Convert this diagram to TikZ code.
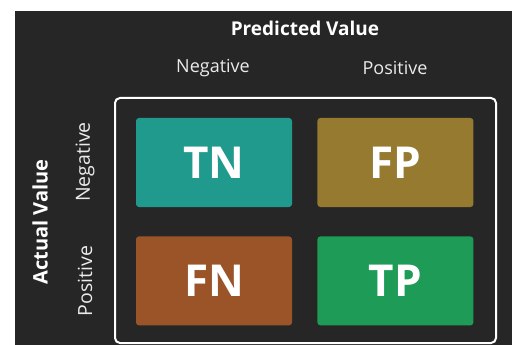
\documentclass[tikz,border=0pt]{standalone}
\usepackage{fontspec}
\setmainfont{Open Sans}
\usetikzlibrary{positioning}

\definecolor{panelGray}{HTML}{262626}
\definecolor{tnTeal}{HTML}{219A8E}
\definecolor{fpOlive}{HTML}{967A30}
\definecolor{fnBrown}{HTML}{9A5428}
\definecolor{tpGreen}{HTML}{1D9B57}

\begin{document}
\begin{tikzpicture}[x=1pt, y=-1pt]

% --- Styles ---
\tikzset{
    cellBox/.style={minimum width=156pt, minimum height=89pt, rounded corners=3pt, inner sep=0pt, text=white, font=\fontsize{44}{44}\selectfont\bfseries},
    frameBox/.style={draw=white, line width=2pt, rounded corners=5pt, minimum width=381pt, minimum height=245pt, inner sep=0pt},
    axisTitle/.style={text=white, font=\fontsize{19}{22}\selectfont\bfseries},
    axisLabel/.style={text=white!92!black, font=\fontsize{18}{21}\selectfont},
    sideLabel/.style={axisLabel, rotate=90, font=\fontsize{19.5}{22}\selectfont},
}

% --- Canvas ---
\useasboundingbox (0,0) rectangle (512,345);
\fill[panelGray] (15,11) rectangle (512,345);

% --- Outer frame ---
\node[frameBox] (frame) at (305.5,220.5) {};

% --- The four cells ---
\node[cellBox, fill=tnTeal] (tn) at (214,162.5) {TN};
\node[cellBox, fill=fpOlive, right=25pt of tn] (fp) {FP};
\node[cellBox, fill=fnBrown, below=29pt of tn] (fn) {FN};
\node[cellBox, fill=tpGreen, right=25pt of fn] (tp) {TP};

% --- Axis titles ---
\node[axisTitle] (predTitle) at (305,28) {Predicted Value};
\node[axisTitle, rotate=90, font=\fontsize{20}{22}\selectfont\bfseries] (actTitle) at (40,222) {Actual Value};

% --- Class labels ---
\node[axisLabel] (predNeg) at (213,68) {Negative};
\node[axisLabel] (predPos) at (395,68) {Positive};
\node[sideLabel] (actNeg) at (85,162) {Negative};
\node[sideLabel] (actPos) at (85,281) {Positive};

\end{tikzpicture}
\end{document}
